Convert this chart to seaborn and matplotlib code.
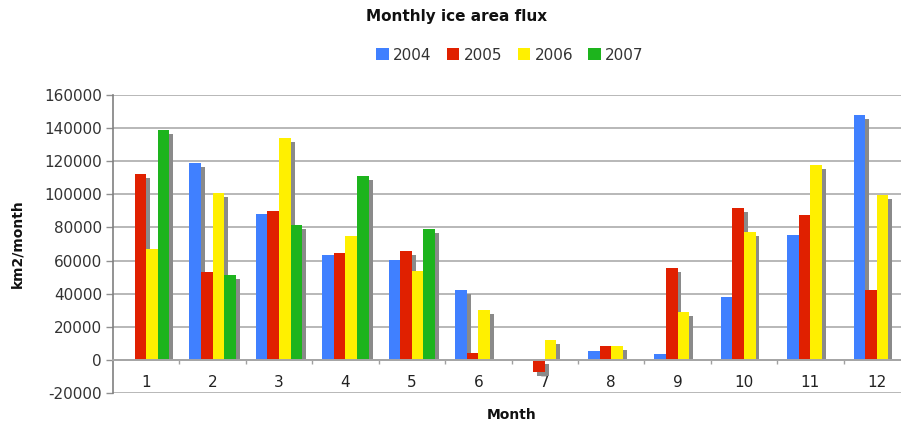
import numpy as np
import pandas as pd
import matplotlib
matplotlib.use("Agg")
import matplotlib.pyplot as plt
import matplotlib.patheffects as pe
import matplotlib.transforms as mtransforms
from matplotlib.patches import Rectangle
from matplotlib.ticker import FixedLocator
import seaborn as sns

nan = np.nan
months = [str(m) for m in range(1, 13)]
years = ["2004", "2005", "2006", "2007"]
flux_2004 = [nan, 119000, 88000, 63500, 60500, 42000, nan, 5500, 3500, 38000, 75500, 148000]
flux_2005 = [112000, 53000, 90000, 64500, 66000, 4000, -7500, 8500, 55500, 91500, 87500, 42000]
flux_2006 = [67000, 101000, 134000, 75000, 53500, 30000, 12000, 8500, 29000, 77000, 117500, 99500]
flux_2007 = [139000, 51000, 81500, 111000, 79000, nan, nan, nan, nan, nan, nan, nan]
year_colors = ["#4080ff", "#e02000", "#fff000", "#1db41d"]
y_ticks = list(range(-20000, 160001, 20000))

series = [flux_2004, flux_2005, flux_2006, flux_2007]
rows = []
for yr, vals in zip(years, series):
    for m, v in zip(months, vals):
        rows.append({"Month": m, "Year": yr, "Flux": v})
df = pd.DataFrame(rows)

sns.set_style("white")
plt.rcParams["font.family"] = ["DejaVu Sans"]

fig = plt.figure(figsize=(9.01, 4.23), dpi=100)
ax = fig.add_axes([113 / 901, 30 / 423, 797 / 901, 298 / 423])

sns.barplot(data=df, x="Month", y="Flux", hue="Year", order=months,
            hue_order=years, palette=year_colors, saturation=1,
            width=0.7, errorbar=None, ax=ax, legend=True)

ax.set_ylim(-20000, 160000)
ax.set_xlim(-0.5, 11.5)

shadow = [pe.SimplePatchShadow(offset=(2.8, -2.8), shadow_rgbFace="#8a8a8a", alpha=1.0),
          pe.Normal()]
# clip region above the zero baseline, so shadows of positive bars stop at the axis
clip_trans = mtransforms.blended_transform_factory(ax.transAxes, ax.transData)
for p in ax.patches:
    p.set_linewidth(0)
    h = p.get_height()
    if h is None or not np.isfinite(h) or h == 0:
        p.set_visible(False)
        continue
    p.set_path_effects(shadow)
    if h > 0:
        clip = Rectangle((0, 0), 1, 1e9, transform=clip_trans)
        p.set_clip_path(clip)

ax.set_yticks(y_ticks)
ax.set_yticklabels([str(t) for t in y_ticks])
ax.yaxis.grid(True, color="#b8b8b8", linewidth=1.4)
ax.xaxis.grid(False)
ax.set_axisbelow(True)

for s in ["top", "right"]:
    ax.spines[s].set_visible(False)
ax.spines["left"].set_color("#808080")
ax.spines["left"].set_linewidth(1.2)
ax.spines["bottom"].set_position(("data", 0))
ax.spines["bottom"].set_color("#a6a6a6")
ax.spines["bottom"].set_linewidth(1.4)

ax.tick_params(axis="y", which="major", length=5, width=1, color="#909090",
               labelsize=11, labelcolor="#333333", pad=3, left=True)
ax.tick_params(axis="x", which="major", length=0, labelsize=11,
               labelcolor="#222222", pad=11)
ax.xaxis.set_minor_locator(FixedLocator([i + 0.5 for i in range(11)]))
ax.tick_params(axis="x", which="minor", length=3, width=1, color="#a0a0a0",
               bottom=True, direction="out")

ax.set_ylabel("km2/month", fontsize=10, fontweight="bold", color="#111111")
ax.yaxis.set_label_coords(-0.111, 0.5)
ax.set_xlabel("Month", fontsize=10, fontweight="bold", color="#111111")
ax.xaxis.set_label_coords(0.5, -0.05)

fig.text(457 / 901, 1 - 17 / 423, "Monthly ice area flux", ha="center",
         va="center", fontsize=11, fontweight="bold", color="#111111")

handles, labels = ax.get_legend_handles_labels()
ax.legend_.remove()
for h in handles:
    h.set_path_effects([])
    h.set_visible(True)
fig.legend(handles, labels, loc="center", bbox_to_anchor=(510 / 901, 1 - 55 / 423),
           ncol=4, frameon=False, fontsize=11, handlelength=0.8,
           handleheight=0.8, handletextpad=0.3, columnspacing=1.0,
           labelcolor="#333333")

fig.savefig("out.png", dpi=100)
